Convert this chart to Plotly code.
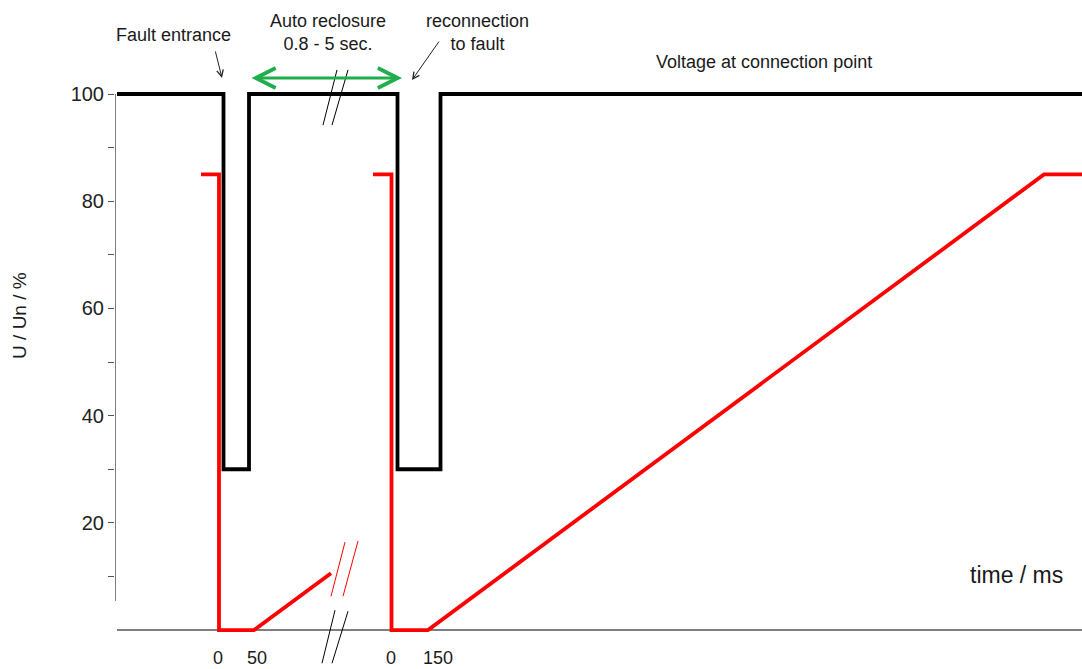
import plotly.graph_objects as go

# ---- data (x = position along the broken time axis, y = U/Un in %) ----
volt_x = [0, 106.5, 106.5, 132, 132, 280.5, 280.5, 323.5, 323.5, 965]
volt_y = [100, 100, 30, 30, 100, 100, 30, 30, 100, 100]

red1_x = [84, 102, 102, 137, 214]
red1_y = [85, 85, 0, 0, 10.6]
red2_x = [256, 274.5, 274.5, 311, 927, 965]
red2_y = [85, 85, 0, 0, 85, 85]

# axis-break marks
brk_red_x = [228, 214, None, 241, 226]
brk_red_y = [16.4, 6.3, None, 16.6, 6.3]
brk_blk_x = [218, 205, None, 231, 215, None, 220, 206, None, 231, 215]
brk_blk_y = [3.7, -6.2, None, 3.5, -6.2, None, 104.5, 94.2, None, 104.5, 94.2]

y_ticks = [20, 40, 60, 80, 100]
y_minor = [10, 30, 50, 70, 90]
x_tick_pos = [101, 140, 274, 321]
x_tick_text = ["0", "50", "0", "150"]

FONT = "Liberation Sans, Arial, sans-serif"
TXT = "#1a1a1a"

fig = go.Figure()
fig.add_trace(go.Scatter(x=volt_x, y=volt_y, mode="lines",
                         line=dict(color="black", width=3.8), hoverinfo="skip"))
fig.add_trace(go.Scatter(x=red1_x, y=red1_y, mode="lines",
                         line=dict(color="#ff0000", width=3.8), hoverinfo="skip"))
fig.add_trace(go.Scatter(x=red2_x, y=red2_y, mode="lines",
                         line=dict(color="#ff0000", width=3.8), hoverinfo="skip"))
fig.add_trace(go.Scatter(x=brk_red_x, y=brk_red_y, mode="lines",
                         line=dict(color="#ff0000", width=1), hoverinfo="skip"))
fig.add_trace(go.Scatter(x=brk_blk_x, y=brk_blk_y, mode="lines",
                         line=dict(color="black", width=1), hoverinfo="skip"))

# axis lines
fig.add_shape(type="line", x0=0, x1=965, y0=0, y1=0, xref="x", yref="y",
              line=dict(color="#555555", width=1.5), layer="below")
fig.add_shape(type="line", x0=-2, x1=-2, y0=5.4, y1=100, xref="x", yref="y",
              line=dict(color="#555555", width=1.5), layer="below")

# x tick labels
for xp, tt in zip(x_tick_pos, x_tick_text):
    fig.add_annotation(x=xp, y=-5.3, text=tt, showarrow=False,
                       font=dict(size=18, color=TXT, family=FONT),
                       xanchor="center", yanchor="middle")

# y-axis title
fig.add_annotation(x=-(115 - 20) / 967, xref="paper", y=58.6, yref="y",
                   text="U / Un / %", textangle=-90, showarrow=False,
                   font=dict(size=19, color=TXT, family=FONT),
                   xanchor="center", yanchor="middle")

# text labels
def label(x, y, text, size=18):
    fig.add_annotation(x=x, y=y, text=text, showarrow=False,
                       font=dict(size=size, color=TXT, family=FONT),
                       xanchor="center", yanchor="middle")

label(56, (630 - 35) / 5.36, "Fault entrance")
label(211, (630 - 32.5) / 5.36, "Auto reclosure<br>0.8 - 5 sec.")
label(360.5, (630 - 32) / 5.36, "reconnection<br>to fault")
label(646.5, (630 - 62) / 5.36, "Voltage at connection point")
label(899, (630 - 575) / 5.36, "time / ms", size=23)

# arrows
fig.add_annotation(x=105, y=103.0, ax=-7, ay=-28, text="", showarrow=True,
                   arrowhead=5, arrowsize=1.3, arrowwidth=1, arrowcolor="#222222")
fig.add_annotation(x=295, y=102.6, ax=28, ay=-40, text="", showarrow=True,
                   arrowhead=5, arrowsize=1.3, arrowwidth=1, arrowcolor="#222222")
fig.add_annotation(x=285, y=103.0, ax=133, ay=103.0, axref="x", ayref="y",
                   text="", showarrow=True, arrowhead=5, arrowside="end+start",
                   arrowsize=1.3, arrowwidth=3, arrowcolor="#1fae4b")

fig.update_layout(
    width=1082, height=669,
    margin=dict(l=115, r=0, t=0, b=0),
    paper_bgcolor="white", plot_bgcolor="white",
    showlegend=False,
    xaxis=dict(range=[-2, 965], visible=False, fixedrange=True),
    yaxis=dict(range=[-7.27, 117.54], showgrid=False, zeroline=False,
               showline=False, tickvals=y_ticks, ticks="outside", ticklen=6,
               tickwidth=1, tickcolor="#555555",
               tickfont=dict(size=20, color="#222222", family=FONT),
               minor=dict(tickvals=y_minor, ticks="outside", ticklen=6,
                          tickwidth=1, tickcolor="#555555"),
               fixedrange=True),
)

fig.write_html("out.html", config={"displayModeBar": False},
               post_script="document.body.style.margin='0px';document.body.style.overflow='hidden';")
